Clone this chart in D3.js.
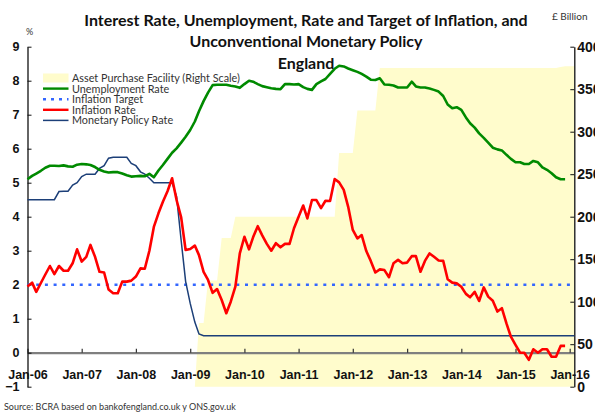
<!DOCTYPE html>
<html>
<head>
<meta charset="utf-8">
<script src="https://cdn.jsdelivr.net/npm/d3@7"></script>
<style>
  body { margin: 0; background: #fff; }
  svg { display: block; font-family: Lato, "DejaVu Sans", sans-serif; }
</style>
</head>
<body>
<script>
// monthly data, Jan-06 onwards
var startYear = 2006;

// Asset Purchase Facility, £ billion (0 until Feb-09)
var apf = [0,0,0,0,0,0,0,0,0,0,0,0, 0,0,0,0,0,0,0,0,0,0,0,0,
  0,0,0,0,0,0,0,0,0,0,0,0,
  0,0,75,75,125,125,125,175,175,175,200,200,
  200,200,200,200,200,200,200,200,200,200,200,200,
  200,200,200,200,200,200,200,200,200,275,275,275,
  275,325,325,325,325,325,375,375,375,375,375,375,
  375,375,375,375,375,375,375,375,375,375,375,375,
  375,375,375,375,375,375,375,375,375,375,375,375,
  375,375,375,375,375,375,375,375,375,375,376,377,
  377,377];

// unemployment rate, %
var unemployment = [5.1,5.2,5.27,5.35,5.44,5.5,5.5,5.49,5.51,5.48,5.47,5.53,
  5.55,5.54,5.52,5.46,5.38,5.33,5.3,5.31,5.31,5.27,5.22,5.18,
  5.19,5.2,5.19,5.26,5.16,5.36,5.52,5.7,5.88,6.01,6.18,6.35,
  6.55,6.8,7.1,7.4,7.65,7.87,7.88,7.88,7.88,7.85,7.83,7.79,
  7.9,8.0,7.97,7.9,7.84,7.81,7.78,7.76,7.75,7.9,7.9,7.89,
  7.9,7.81,7.76,7.73,7.9,7.98,8.05,8.2,8.35,8.44,8.42,8.36,
  8.31,8.26,8.2,8.12,8.03,8.02,8.07,7.89,7.88,7.86,7.8,7.8,
  7.8,7.97,7.83,7.8,7.8,7.77,7.73,7.68,7.55,7.3,7.19,7.22,
  7.14,6.92,6.75,6.62,6.45,6.32,6.18,6.03,5.98,5.95,5.82,5.7,
  5.6,5.6,5.55,5.55,5.64,5.6,5.45,5.38,5.28,5.16,5.1,5.1];

// CPI inflation, %
var inflation = [1.95,2.06,1.79,2.05,2.3,2.55,2.31,2.55,2.41,2.41,2.63,3.04,
  2.68,2.82,3.17,2.82,2.38,2.36,1.86,1.75,1.75,2.09,2.09,2.12,
  2.24,2.48,2.47,3.0,3.7,4.1,4.44,4.75,5.13,4.49,3.98,3.02,
  3.05,3.15,2.87,2.38,2.14,1.76,1.87,1.55,1.16,1.5,1.94,2.92,
  3.41,3.04,3.4,3.72,3.45,3.2,3.0,3.22,3.1,3.2,3.2,3.66,
  4.0,4.33,3.95,4.49,4.49,4.25,4.47,4.46,5.11,5.01,4.79,4.29,
  3.61,3.36,3.46,2.99,2.7,2.36,2.45,2.43,2.22,2.63,2.73,2.63,
  2.65,2.84,2.84,2.38,2.7,2.92,2.82,2.71,2.7,2.16,2.06,2.04,
  1.94,1.73,1.63,1.79,1.52,1.92,1.65,1.53,1.21,1.31,0.86,0.47,
  0.23,0.0,0.0,-0.21,0.1,0.0,0.1,0.1,-0.12,-0.12,0.2,0.2];

// Bank Rate (monthly average), %
var policyRate = [4.5,4.5,4.5,4.5,4.5,4.5,4.5,4.74,4.75,4.75,4.93,5.0,
  5.18,5.25,5.25,5.25,5.42,5.5,5.72,5.75,5.75,5.75,5.75,5.57,
  5.5,5.32,5.25,5.13,5.0,5.0,5.0,5.0,5.0,4.6,3.3,2.1,
  1.45,0.9,0.55,0.5,0.5,0.5,0.5,0.5,0.5,0.5,0.5,0.5,
  0.5,0.5,0.5,0.5,0.5,0.5,0.5,0.5,0.5,0.5,0.5,0.5,
  0.5,0.5,0.5,0.5,0.5,0.5,0.5,0.5,0.5,0.5,0.5,0.5,
  0.5,0.5,0.5,0.5,0.5,0.5,0.5,0.5,0.5,0.5,0.5,0.5,
  0.5,0.5,0.5,0.5,0.5,0.5,0.5,0.5,0.5,0.5,0.5,0.5,
  0.5,0.5,0.5,0.5,0.5,0.5,0.5,0.5,0.5,0.5,0.5,0.5,
  0.5,0.5,0.5,0.5,0.5,0.5,0.5,0.5,0.5,0.5,0.5,0.5,
  0.5,0.5];

var inflationTarget = 2;

var leftTicks = [-1,0,1,2,3,4,5,6,7,8,9];
var rightTicks = [0,50,100,150,200,250,300,350,400];
var yearTicks = [2006,2007,2008,2009,2010,2011,2012,2013,2014,2015,2016];

var titleLines = ["Interest Rate, Unemployment, Rate and Target of Inflation, and",
                  "Unconventional Monetary Policy", "England"];
var legendItems = ["Asset Purchase Facility (Right Scale)", "Unemployment Rate",
                   "Inflation Target", "Inflation Rate", "Monetary Policy Rate"];

function month(i){ return new Date(startYear, i, 1); }

var width = 595, height = 413;
var plotTop = 46.7, plotBottom = 386.7, plotLeft = 27.5, plotRight = 574.3;

var svg = d3.select("body").append("svg")
            .attr("width", width)
            .attr("height", height);

var x = d3.scaleTime()
          .domain([new Date(2006,0,1), new Date(2016,1,1)])
          .range([plotLeft, plotRight]);
var y = d3.scaleLinear().domain([-1, 9]).range([plotBottom, plotTop]);
var yR = d3.scaleLinear().domain([0, 400]).range([plotBottom, plotTop]);

//yellow area (right scale)
var apfData = apf.map(function(v, i){ return {d: month(i), v: v}; });
svg.append("path")
   .datum(apfData)
   .attr("fill", "#fffccc")
   .attr("d", d3.area().x(function(d){ return x(d.d); })
                       .y0(yR(0)).y1(function(d){ return yR(d.v); }));

//x axis on the zero line
var xAxis = d3.axisBottom(x)
              .tickValues(yearTicks.map(function(yr){ return new Date(yr,0,1); }))
              .tickFormat(d3.timeFormat("Jan-%y"))
              .tickSizeInner(-4).tickSizeOuter(0).tickPadding(17);
var gx = svg.append("g").attr("transform", "translate(0," + y(0) + ")").call(xAxis);
gx.select(".domain").attr("stroke", "#7f7f7f").attr("stroke-width", 2.2);
gx.selectAll(".tick line").attr("stroke", "#333").attr("stroke-width", 1.2);
gx.selectAll("text").attr("font-size", 12.5).attr("font-weight", "bold").attr("fill", "#111");

//left axis
var yAxis = d3.axisLeft(y).tickValues(leftTicks).tickFormat(d3.format("d"))
              .tickSizeInner(-4).tickSizeOuter(0).tickPadding(8);
var gy = svg.append("g").attr("transform", "translate(" + plotLeft + ",0)").call(yAxis);
gy.select(".domain").attr("stroke", "#111").attr("stroke-width", 1.3);
gy.selectAll(".tick line").attr("stroke", "#111");
gy.selectAll("text").attr("font-size", 12.5).attr("font-weight", "bold").attr("fill", "#111");

//right axis (labels run off the edge like in the original)
var yAxisR = d3.axisRight(yR).tickValues(rightTicks).tickFormat(d3.format("d"))
               .tickSizeInner(-4).tickSizeOuter(0).tickPadding(3);
var gyr = svg.append("g").attr("transform", "translate(" + plotRight + ",0)").call(yAxisR);
gyr.select(".domain").attr("stroke", "#111").attr("stroke-width", 1.3);
gyr.selectAll(".tick line").attr("stroke", "#111");
gyr.selectAll("text").attr("font-size", 14).attr("font-weight", "bold").attr("fill", "#111");

//inflation target
svg.append("line")
   .attr("x1", plotLeft).attr("x2", plotRight)
   .attr("y1", y(inflationTarget)).attr("y2", y(inflationTarget))
   .attr("stroke", "#3366ff").attr("stroke-width", 2.5)
   .attr("stroke-dasharray", "3,5.7");

function lineOf(values){
  return d3.line().x(function(d, i){ return x(month(i)); })
                  .y(function(d){ return y(d); })(values);
}

svg.append("path").attr("d", lineOf(policyRate))
   .attr("fill", "none").attr("stroke", "#1c3f78").attr("stroke-width", 1.5);
svg.append("path").attr("d", lineOf(unemployment))
   .attr("fill", "none").attr("stroke", "#008a00").attr("stroke-width", 2.6)
   .attr("stroke-linejoin", "round");
svg.append("path").attr("d", lineOf(inflation))
   .attr("fill", "none").attr("stroke", "#ff0000").attr("stroke-width", 2.6)
   .attr("stroke-linejoin", "round");

//titles
svg.selectAll(".title").data(titleLines).enter().append("text")
   .attr("class", "title")
   .attr("x", 306).attr("y", function(d, i){ return 25.5 + i * 21.7; })
   .attr("text-anchor", "middle")
   .attr("font-size", 16).attr("font-weight", "bold").attr("fill", "#111")
   .text(function(d){ return d; });

svg.append("text").attr("x", 26).attr("y", 35).attr("font-size", 9).attr("fill", "#333").text("%");
svg.append("text").attr("x", 552).attr("y", 20).attr("font-size", 10).attr("fill", "#333").text("£ Billion");

svg.append("text").attr("x", 4).attr("y", 410).attr("font-size", 9).attr("fill", "#333")
   .text("Source: BCRA based on bankofengland.co.uk y ONS.gov.uk");

//legend
var legend = svg.append("g").attr("transform", "translate(43,78)");
var rows = legend.selectAll("g").data(legendItems).enter().append("g")
                 .attr("transform", function(d, i){ return "translate(0," + (i * 10.6) + ")"; });
rows.append("text").attr("x", 29).attr("y", 4).attr("font-size", 10.8).attr("fill", "#333")
    .text(function(d){ return d; });
legend.append("rect").attr("x", 0).attr("y", -4.5).attr("width", 25.5).attr("height", 9).attr("fill", "#fffccc");
legend.append("line").attr("x1", 0).attr("x2", 25.5).attr("y1", 10.6).attr("y2", 10.6)
      .attr("stroke", "#008a00").attr("stroke-width", 2.4);
legend.append("line").attr("x1", 0).attr("x2", 25.5).attr("y1", 21.2).attr("y2", 21.2)
      .attr("stroke", "#3366ff").attr("stroke-width", 2.4).attr("stroke-dasharray", "3,5");
legend.append("line").attr("x1", 0).attr("x2", 25.5).attr("y1", 31.8).attr("y2", 31.8)
      .attr("stroke", "#ff0000").attr("stroke-width", 2.4);
legend.append("line").attr("x1", 0).attr("x2", 25.5).attr("y1", 42.4).attr("y2", 42.4)
      .attr("stroke", "#1c3f78").attr("stroke-width", 1.5);
</script>
</body>
</html>
